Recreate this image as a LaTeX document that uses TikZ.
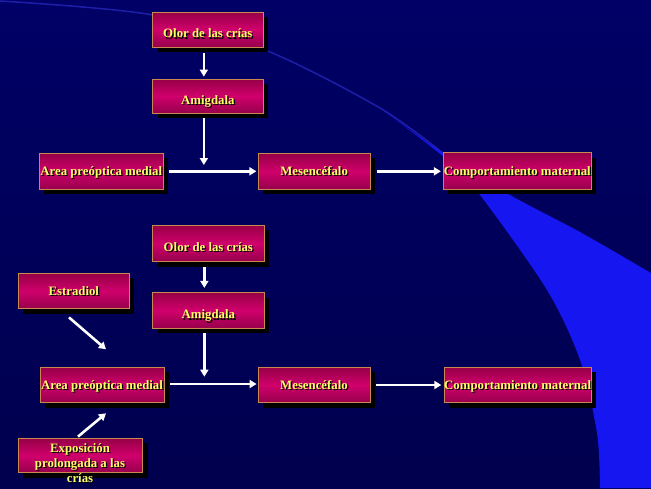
\documentclass[tikz,border=0pt]{standalone}
\usepackage{fontspec}
\setmainfont{Liberation Serif}
\usetikzlibrary{arrows.meta}
\definecolor{bgtop}{RGB}{0,0,102}
\definecolor{bgbot}{RGB}{0,0,78}
\definecolor{arcc}{RGB}{30,30,170}
\definecolor{swoosh}{RGB}{22,22,240}
\definecolor{boxtop}{RGB}{150,0,70}
\definecolor{boxmid}{RGB}{208,0,108}
\definecolor{boxbot}{RGB}{150,0,76}
\definecolor{boxedge}{RGB}{200,136,80}
\definecolor{txtyellow}{RGB}{255,255,102}
\newcommand\txsh[1]{\leavevmode\rlap{\kern1.2pt\raisebox{-1.2pt}{\color{black}#1}}#1}
\tikzset{
  box/.style={rectangle, inner sep=0pt, draw=boxedge, line width=0.8pt,
    top color=boxtop, bottom color=boxbot, middle color=boxmid,
    preaction={fill=black, transform canvas={xshift=5pt,yshift=-5pt}},
    font=\bfseries\fontsize{12.8}{15}\selectfont, text=txtyellow,
    text height=8.4pt, text depth=0pt},
  lowtext/.style={text height=16.6pt, text depth=0pt},
  freetext/.style={inner sep=0pt, align=center,
    font=\bfseries\fontsize{12.8}{15}\selectfont, text=txtyellow},
  arr/.style={draw=white, line width=2.6pt, -{Triangle[length=7pt,width=8pt]}}
}
\begin{document}
\begin{tikzpicture}[x=1pt,y=-1pt]
\useasboundingbox (0,0) rectangle (651,488);
% background
\shade[top color=bgtop, bottom color=bgbot] (0,0) rectangle (651,488);
\draw[arcc, line width=1.5pt] plot[smooth] coordinates {(0,1) (153,15) (270,52) (380,108) (443,153)};
\fill[swoosh] plot[smooth] coordinates {(380,108) (443,153) (510,195) (580,232) (651,273)}
  -- (651,488) -- (600,488)
  -- plot[smooth] coordinates {(600,488) (597,433) (580,360) (547,290) (480,195) (445,158) (380,108)} -- cycle;

% top diagram
\node[box, lowtext, minimum width=110.3pt, minimum height=35pt] (olor1) at (207.85,29.5) {\txsh{Olor de las crías}};
\node[box, lowtext, minimum width=110.3pt, minimum height=34pt] (amig1) at (207.85,96) {\txsh{Amigdala}};
\node[box, minimum width=124pt, minimum height=36pt] (area1) at (101.3,171.3) {\txsh{Area preóptica medial}};
\node[box, minimum width=111.7pt, minimum height=36pt] (mes1) at (314.15,171.3) {\txsh{Mesencéfalo}};
\node[box, minimum width=148pt, minimum height=36.6pt] (comp1) at (517.3,171) {\txsh{Comportamiento maternal}};
\coordinate (j1) at (203.85,165);

\draw[arr] ([xshift=-4pt,yshift=-6pt]olor1.south) -- ([xshift=-4pt,yshift=2pt]amig1.north);
\draw[arr] ([xshift=-4pt,yshift=-5pt]amig1.south) -- (j1);
\draw[arr] ([xshift=5pt]area1.east) -- ([xshift=-1.5pt]area1.east -| mes1.west);
\draw[arr] ([xshift=6.5pt]mes1.east) -- ([xshift=-2pt]mes1.east -| comp1.west);

% bottom diagram
\node[box, lowtext, minimum width=111.3pt, minimum height=36.7pt] (olor2) at (208.35,243.35) {\txsh{Olor de las crías}};
\node[box, lowtext, minimum width=111.3pt, minimum height=35.6pt] (amig2) at (208.35,310.5) {\txsh{Amigdala}};
\node[box, minimum width=124pt, minimum height=35.4pt] (area2) at (102,385) {\txsh{Area preóptica medial}};
\node[box, minimum width=112pt, minimum height=35.4pt] (mes2) at (314,385) {\txsh{Mesencéfalo}};
\node[box, minimum width=147.3pt, minimum height=35.4pt] (comp2) at (517.65,385) {\txsh{Comportamiento maternal}};
\node[box, minimum width=111pt, minimum height=35.4pt] (estr) at (73.8,291) {\txsh{Estradiol}};
\node[box, minimum width=124.4pt, minimum height=34.4pt] (expo) at (80.5,455.5) {};
\node[freetext] (expot) at (80,464) {\txsh{Exposición}\\\txsh{prolongada a las}\\\txsh{crías}};
\coordinate (j2) at (204.35,376.7);
\coordinate (e1) at (106,349.3);
\coordinate (e2) at (106,413.3);

\draw[arr] ([xshift=-4pt,yshift=-5pt]olor2.south) -- ([xshift=-4pt,yshift=4.4pt]amig2.north);
\draw[arr] ([xshift=-4pt,yshift=-4.4pt]amig2.south) -- (j2);
\draw[arr] ([xshift=6pt,yshift=1pt]area2.east) -- ([xshift=-1pt,yshift=1pt]area2.east -| mes2.west);
\draw[arr] ([xshift=6pt]mes2.east) -- ([xshift=-2.3pt]mes2.east -| comp2.west);
\draw[arr] ([xshift=-4.8pt,yshift=-8.3pt]estr.south) -- (e1);
\draw[arr] ([xshift=-2.5pt,yshift=1.3pt]expo.north) -- (e2);
\end{tikzpicture}
\end{document}
